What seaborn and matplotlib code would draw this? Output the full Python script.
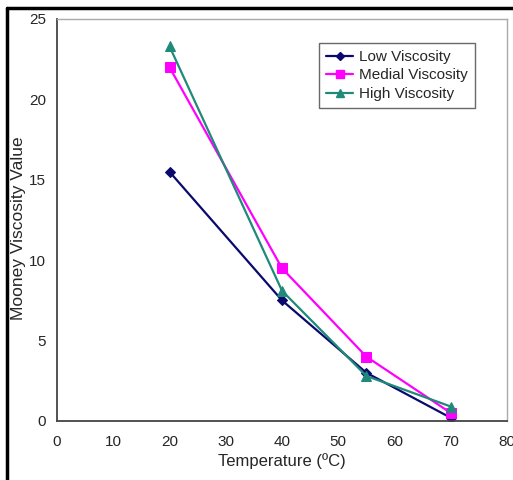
import seaborn as sns
import matplotlib.pyplot as plt
import pandas as pd
from matplotlib.lines import Line2D

# dados
temperatura = [20, 40, 55, 70]
low_visc = [15.5, 7.5, 3.0, 0.2]
medial_visc = [22.0, 9.5, 4.0, 0.5]
high_visc = [23.3, 8.1, 2.8, 0.9]

series = ['Low Viscosity', 'Medial Viscosity', 'High Viscosity']
cores = ['#0a0a6e', '#ff00ff', '#1f8a7a']
marcadores = ['D', 's', '^']
tamanhos = [5, 7, 7]

df = pd.DataFrame({
    'T': temperatura * 3,
    'valor': low_visc + medial_visc + high_visc,
    'serie': [s for s in series for _ in temperatura],
})

sns.set_style('white')
plt.rcParams['font.family'] = ['Liberation Sans', 'DejaVu Sans']

fig = plt.figure(figsize=(5.13, 4.8), dpi=100)
ax = fig.add_axes([57 / 513, 59 / 480, 450 / 513, 402 / 480])

for s, c, m, ms in zip(series, cores, marcadores, tamanhos):
    sub = df[df['serie'] == s]
    sns.lineplot(data=sub, x='T', y='valor', ax=ax, color=c, marker=m,
                 markersize=ms, markeredgecolor=c, linewidth=1.6, label=s,
                 legend=False)

ax.set_xlim(0, 80)
ax.set_ylim(0, 25)
ax.set_xticks(range(0, 81, 10))
ax.set_yticks(range(0, 26, 5))
ax.set_xlabel('Temperature (ºC)', fontsize=12)
ax.set_ylabel('Mooney Viscosity Value', fontsize=12.5)
ax.xaxis.set_label_coords(0.5, -32 / 402)
ax.yaxis.set_label_coords(-31 / 450, 0.48)
ax.tick_params(axis='x', direction='in', length=5, width=1, color='#444444',
               labelsize=11, pad=10)
ax.tick_params(axis='y', direction='out', length=5, width=1, color='#444444',
               labelsize=11, pad=3)

for lado in ['left', 'bottom']:
    ax.spines[lado].set_color('#444444')
    ax.spines[lado].set_linewidth(1.3)
for lado in ['top', 'right']:
    ax.spines[lado].set_color('#aaaaaa')
    ax.spines[lado].set_linewidth(1.0)

handles = [Line2D([], [], color=c, marker=m, markersize=ms - 1, linewidth=1.6)
           for c, m, ms in zip(cores, marcadores, tamanhos)]
leg = ax.legend(handles, series, loc='upper left',
                bbox_to_anchor=(262 / 450, 1 - 24 / 402), borderaxespad=0,
                fontsize=11, frameon=True, fancybox=False, edgecolor='#444444',
                handlelength=1.8, handletextpad=0.4, borderpad=0.45,
                labelspacing=0.3)
leg.get_frame().set_linewidth(1.0)

# moldura preta externa
fig.add_artist(plt.Line2D([7 / 513, 7 / 513], [0, 1 - 8 / 480],
                          transform=fig.transFigure, color='black', linewidth=2.5))
fig.add_artist(plt.Line2D([7 / 513, 1], [1 - 8 / 480, 1 - 8 / 480],
                          transform=fig.transFigure, color='black', linewidth=2.5))

fig.savefig('out.png', dpi=100)
